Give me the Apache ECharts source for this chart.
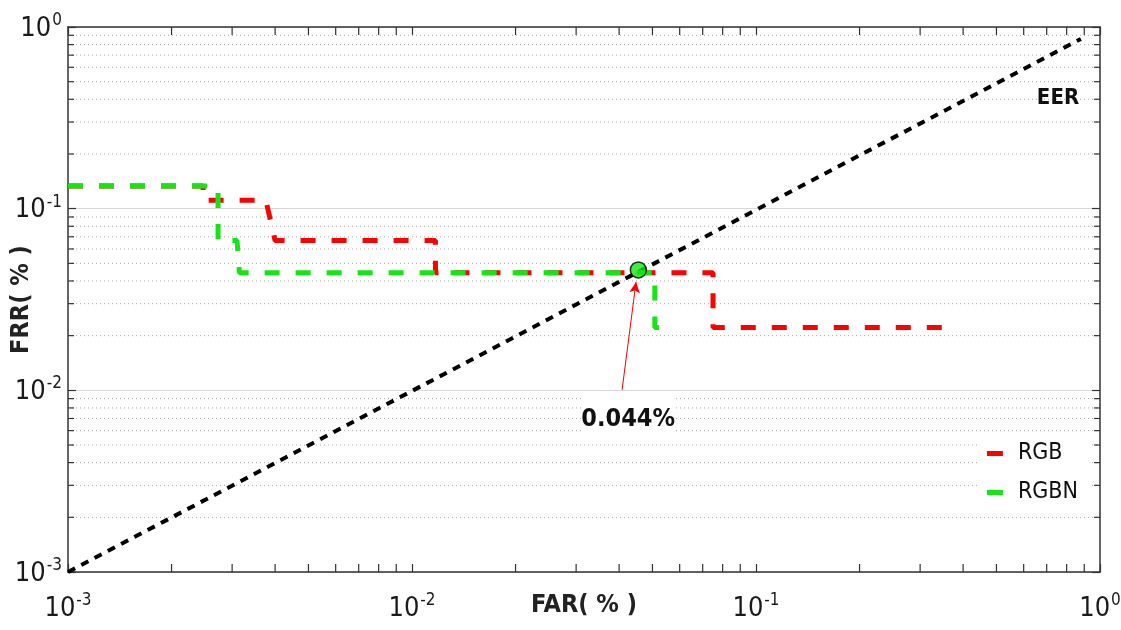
<!DOCTYPE html>
<html><head><meta charset="utf-8">
<script src="https://cdn.jsdelivr.net/npm/echarts@6/dist/echarts.min.js"></script>
<style>html,body{margin:0;padding:0;background:#fff}#c{width:1121px;height:630px}</style>
</head><body><div id="c"></div>
<script>
// ---- data ----
const eerFar = [0.001, 0.88];
const eerFrr = [0.001, 0.86];
const rgbFar = [0.001, 0.00247, 0.00247, 0.00376, 0.0040, 0.0117, 0.0117, 0.075, 0.075, 0.359];
const rgbFrr = [0.1333, 0.1333, 0.1111, 0.1111, 0.0667, 0.0667, 0.0444, 0.0444, 0.0222, 0.0222];
const rgbnFar = [0.001, 0.00268, 0.00273, 0.00273, 0.0031, 0.00315, 0.0508, 0.0508, 0.0544];
const rgbnFrr = [0.1333, 0.1333, 0.125, 0.0667, 0.0667, 0.0444, 0.0444, 0.0222, 0.0222];
const eerPoint = [0.0455, 0.046];
const eerLabel = '0.044%';
const minorTicks = [2,3,4,5,6,7,8,9].flatMap(k => [1e-3, 1e-2, 1e-1].map(d => +(k * d).toPrecision(3)));

const FONT = "'Liberation Sans Narrow','Arial Narrow','DejaVu Sans Condensed','Liberation Sans',Arial,sans-serif";
const zip = (a, b) => a.map((v, i) => [v, b[i]]);
const supLabel = v => {
  const e = Math.round(Math.log10(v));
  return '{a|10}{b|' + e + '}';
};
const rich = {
  a: {fontSize: 27, fontFamily: FONT, color: '#1a1a1a', lineHeight: 30, verticalAlign: 'bottom'},
  b: {fontSize: 17, fontFamily: FONT, color: '#1a1a1a', lineHeight: 30, verticalAlign: 'top', padding: [0, 0, 0, 1]}
};

const chart = echarts.init(document.getElementById('c'));
const axisCommon = {
  type: 'log', logBase: 10, min: 0.001, max: 1,
  axisLine: {show: true, lineStyle: {color: '#333', width: 1.5}},
  axisTick: {show: true, inside: true, length: 8, lineStyle: {color: '#333', width: 1.2}},
  minorTick: {show: false}
};
function yMinor(params, api) {
  const cs = params.coordSys;
  const y = api.coord([0.001, api.value(1)])[1];
  return {type: 'group', silent: true, children: [
    {type: 'line', shape: {x1: cs.x, y1: y, x2: cs.x + cs.width, y2: y}, style: {stroke: '#aaa', lineWidth: 1, lineDash: [1, 3]}},
    {type: 'line', shape: {x1: cs.x, y1: y, x2: cs.x + 6, y2: y}, style: {stroke: '#333', lineWidth: 1.2}},
    {type: 'line', shape: {x1: cs.x + cs.width - 6, y1: y, x2: cs.x + cs.width, y2: y}, style: {stroke: '#333', lineWidth: 1.2}}
  ]};
}
function xMinor(params, api) {
  const cs = params.coordSys;
  const x = api.coord([api.value(0), 0.001])[0];
  return {type: 'group', silent: true, children: [
    {type: 'line', shape: {x1: x, y1: cs.y + cs.height, x2: x, y2: cs.y + cs.height - 8}, style: {stroke: '#333', lineWidth: 1.2}},
    {type: 'line', shape: {x1: x, y1: cs.y, x2: x, y2: cs.y + 8}, style: {stroke: '#333', lineWidth: 1.2}}
  ]};
}
chart.setOption({
  animation: false,
  backgroundColor: '#fff',
  grid: {left: 68, right: 21, top: 27, bottom: 58, containLabel: false, outerBoundsMode: 'none'},
  legend: {
    data: [{name: 'RGB', itemStyle: {color: '#ff0000'}}, {name: 'RGBN', itemStyle: {color: '#14e614'}}],
    orient: 'vertical', right: 29, top: 432, backgroundColor: '#fff',
    padding: [10, 14, 12, 8], icon: 'rect', itemWidth: 16, itemHeight: 5, itemGap: 16,
    textStyle: {fontSize: 23, fontFamily: FONT, color: '#111', padding: [0, 0, 0, 10]}
  },
  xAxis: [
    Object.assign({}, axisCommon, {
      position: 'bottom', name: 'FAR( % )', nameLocation: 'middle', nameGap: 21, nameMoveOverlap: false,
      nameTextStyle: {fontSize: 25, fontWeight: 'bold', fontFamily: FONT, color: '#222'},
      axisLabel: {margin: 20, formatter: supLabel, rich: rich},
      splitLine: {show: false}
    }),
    Object.assign({}, axisCommon, {position: 'top', axisLabel: {show: false}, splitLine: {show: false}})
  ],
  yAxis: [
    Object.assign({}, axisCommon, {
      position: 'left', name: 'FRR( % )', nameLocation: 'middle', nameGap: 34, nameMoveOverlap: false,
      nameTextStyle: {fontSize: 25, fontWeight: 'bold', fontFamily: FONT, color: '#222'},
      axisLabel: {margin: 6, formatter: supLabel, rich: rich},
      splitLine: {show: true, lineStyle: {color: '#d8d8d8', width: 1.2}}
    }),
    Object.assign({}, axisCommon, {position: 'right', axisLabel: {show: false}, splitLine: {show: false}})
  ],
  series: [
    {type: 'custom', name: 'yminor', renderItem: yMinor, data: minorTicks.map(v => [0.001, v]), z: 1, silent: true, clip: false},
    {type: 'custom', name: 'xminor', renderItem: xMinor, data: minorTicks.map(v => [v, 0.001]), z: 1, silent: true, clip: false},
    {
      type: 'line', name: 'EER', data: zip(eerFar, eerFrr), showSymbol: false, symbol: 'none', z: 3,
      lineStyle: {color: '#000', width: 4, type: [8, 7]},
      markPoint: {
        silent: true, symbol: 'rect', symbolSize: 1, itemStyle: {color: 'rgba(0,0,0,0)'},
        data: [{coord: [0.755, 0.407], label: {show: true, position: 'inside', formatter: 'EER', fontSize: 22, fontWeight: 'bold', fontFamily: FONT, color: '#111'}}]
      }
    },
    {
      type: 'line', name: 'RGB', data: zip(rgbFar, rgbFrr), showSymbol: false, symbol: 'none', z: 4,
      lineStyle: {color: '#ff0000', width: 5, type: [15, 16]}, itemStyle: {color: '#ff0000'}
    },
    {
      type: 'line', name: 'RGBN', data: zip(rgbnFar, rgbnFrr), showSymbol: false, symbol: 'none', z: 5,
      lineStyle: {color: '#14e614', width: 5, type: [15, 16]}, itemStyle: {color: '#14e614'}
    },
    {
      type: 'scatter', name: 'EERpoint', data: [eerPoint], symbol: 'circle', symbolSize: 16, z: 6,
      itemStyle: {color: '#14e614', borderColor: '#000', borderWidth: 1.5},
      markLine: {
        silent: true, symbol: ['none', 'arrow'], symbolSize: [8, 11],
        lineStyle: {color: '#ff0000', width: 1, type: 'solid'}, label: {show: false},
        data: [[{coord: [0.0408, 0.01005]}, {coord: [0.0448, 0.0395]}]]
      },
      markPoint: {
        silent: true, symbol: 'rect', symbolSize: [94, 48], itemStyle: {color: '#fff'},
        data: [{coord: [0.0425, 0.00687], label: {show: true, position: 'inside', formatter: eerLabel, fontSize: 25, fontWeight: 'bold', fontFamily: FONT, color: '#111'}}]
      }
    }
  ]
});
</script></body></html>
